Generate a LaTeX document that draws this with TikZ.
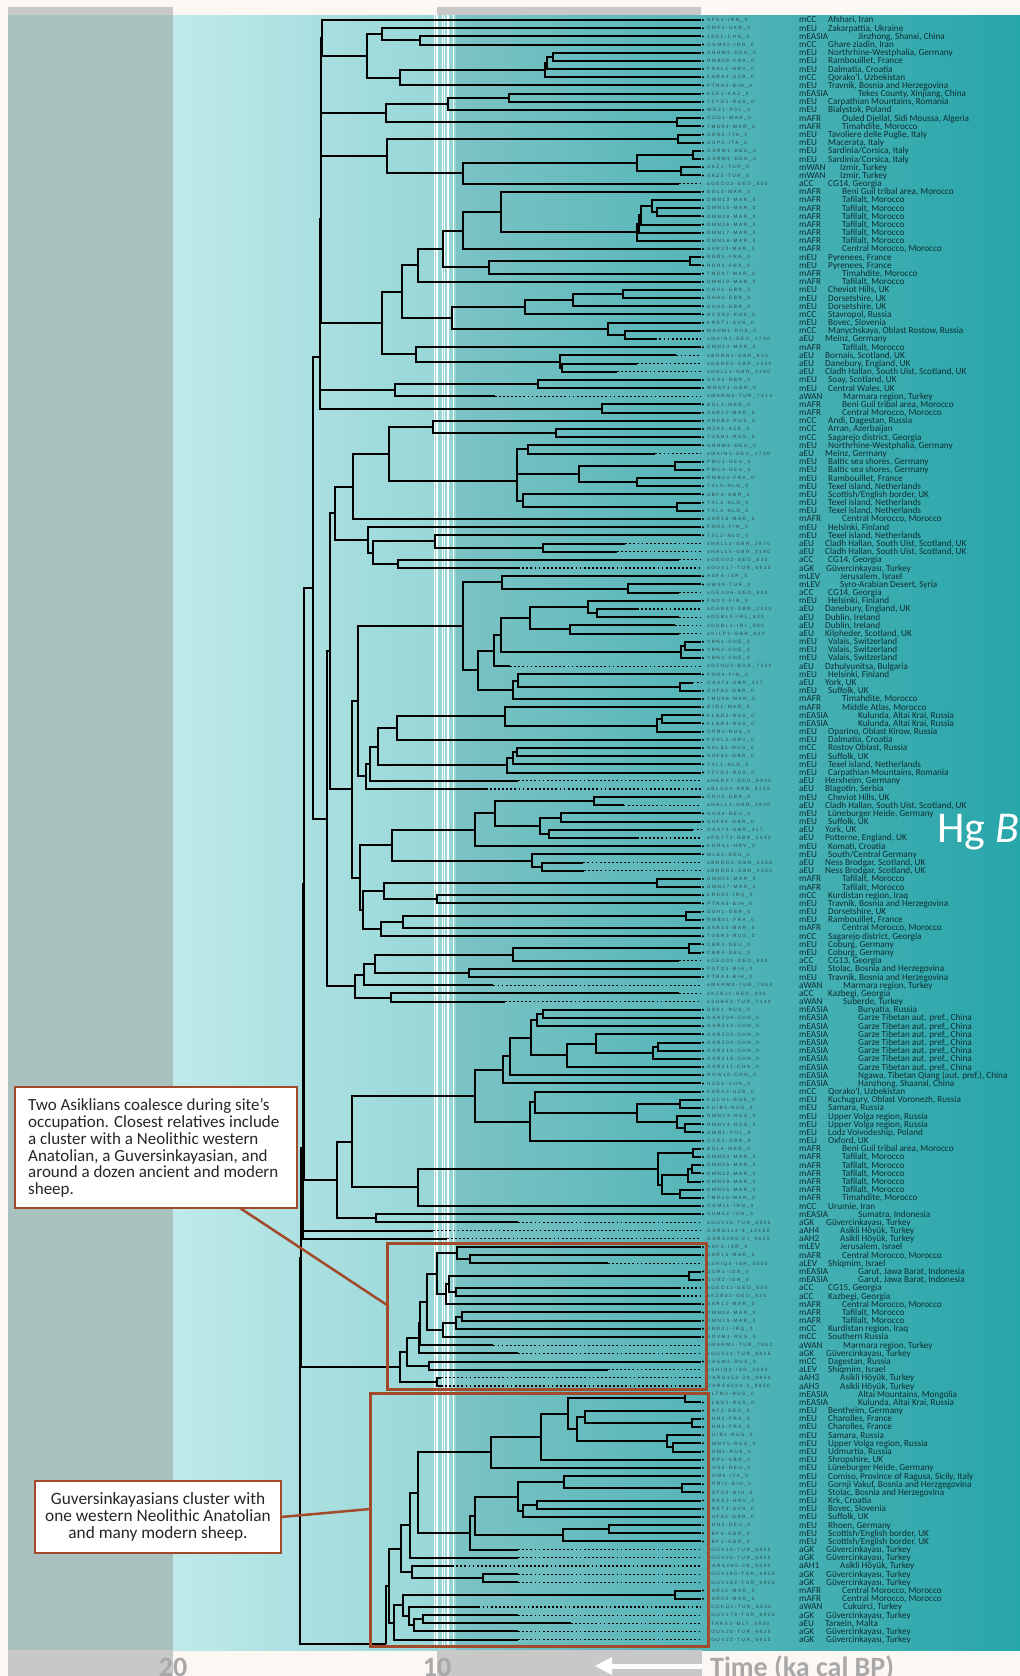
\documentclass[tikz,border=0pt]{standalone}
\usepackage{fontspec}
\setmainfont{Carlito}
\newfontfamily\idfont[LetterSpace=32]{Liberation Sans}
\usetikzlibrary{calc}
\definecolor{bgw}{HTML}{FDF7F4}
\definecolor{gry}{HTML}{C8C8C8}
\definecolor{zl}{HTML}{A9C2C0}
\definecolor{za}{HTML}{C0EAEA}
\definecolor{zb}{HTML}{95D5D6}
\definecolor{zc}{HTML}{7CC3C4}
\definecolor{zd}{HTML}{55B5B8}
\definecolor{ze}{HTML}{27A6AA}
\definecolor{idc}{HTML}{2A4447}
\definecolor{lbc}{HTML}{0C2E32}
\definecolor{rust}{HTML}{A24A2A}
\definecolor{axg}{HTML}{A8A8A8}
\newcommand\lxdef[2]{\expandafter\def\csname lx#1\endcsname{#2}}
\lxdef{mCC}{828}\lxdef{mEU}{828}\lxdef{mEASIA}{858}\lxdef{mAFR}{842}\lxdef{mWAN}{840}
\lxdef{aCC}{828}\lxdef{aEU}{825}\lxdef{aWAN}{843}\lxdef{mLEV}{840}\lxdef{aLEV}{828}
\lxdef{aGK}{826}\lxdef{aAH1}{840}\lxdef{aAH2}{840}\lxdef{aAH3}{840}\lxdef{aAH4}{840}
\newcommand\lf[5]{%
 \pgfmathsetmacro\ly{20+(#1-1)*8.18}%
 \pgfmathsetmacro\lx{701-26.4*#2}%
 \coordinate (L#1) at (\lx,\ly);
 \ifdim #2pt>0pt \draw[anc] (L#1) -- (701,\ly);\else\fill (703,\ly) circle (1.1);\fi
 \node[idt] at (707,\ly) {#3};
 \node[cdt] at (799,\ly) {#4};
 \node[cdt] at (\csname lx#4\endcsname,\ly) {#5};
}
\newcommand\nd[4]{\path let \p1=(#3),\p2=(#4) in (#2pt,{0.5*\y1+0.5*\y2}) coordinate (#1);
 \draw[br] (#3) -| (#1) |- (#4);}
\tikzset{
 br/.style={line width=2pt, draw=black, line join=miter},
 anc/.style={line width=1.2pt, dash pattern=on 1.8pt off 2.3pt},
 idt/.style={anchor=west, inner sep=0pt, text=idc, font=\idfont\fontsize{4.7}{5}\selectfont, text height=3.4pt, text depth=0pt},
 cdt/.style={anchor=west, inner sep=0pt, text=lbc, font=\fontsize{9.2}{9}\selectfont, text height=5.9pt, text depth=0pt},
 callout/.style={draw=rust, line width=2.5pt, fill=white},
 hl/.style={draw=rust, line width=3pt},
 axl/.style={text=axg, inner sep=0pt, font=\bfseries\fontsize{28}{28}\selectfont},
}
\begin{document}
\begin{tikzpicture}[x=1pt,y=-1pt]
\useasboundingbox (0,0) rectangle (1020,1676);
% background
\fill[bgw] (0,0) rectangle (1020,1676);
\fill[gry] (8,7) rectangle (173,15);
\fill[gry] (437,7) rectangle (701,15);
\fill[zl] (8,15) rectangle (173,1650);
\shade[left color=za, right color=zb] (173,15) rectangle (456,1650);
\shade[left color=zc, right color=zd] (456,15) rectangle (701,1650);
\shade[left color=zd, right color=ze] (701,15) rectangle (1020,1650);
\fill[gry] (8,1650) rectangle (173,1676);
\fill[gry] (437,1650) rectangle (702,1676);
\foreach \wx in {434.5,437,442.5,444.3,448,453.5} \draw[white, line width=1.2pt] (\wx,15) -- (\wx,1648);
% leaves
\lf{1}{0}{AFS1-IRN\_0}{mCC}{Afshari, Iran}
\lf{2}{0}{CMF1-UKR\_0}{mEU}{Zakarpattia, Ukraine}
\lf{3}{0}{JZG1-CHN\_0}{mEASIA}{Jinzhong, Shanxi, China}
\lf{4}{0}{OGM02-IRN\_0}{mCC}{Ghare ziadin, Iran}
\lf{5}{0}{GBHM2-DEU\_0}{mEU}{Northrhine-Westphalia, Germany}
\lf{6}{0}{RMB08-FRA\_0}{mEU}{Rambouillet, France}
\lf{7}{0}{PDAL1-HRV\_0}{mEU}{Dalmatia, Croatia}
\lf{8}{0}{KARA1-UZB\_0}{mCC}{Qorako'l, Uzbekistan}
\lf{9}{0}{PTRA2-BIH\_0}{mEU}{Travnik, Bosnia and Herzegovina}
\lf{10}{0}{KZK1-KAZ\_0}{mEASIA}{Tekes County, Xinjiang, China}
\lf{11}{0}{TZYG1-RUS\_0}{mEU}{Carpathian Mountains, Romania}
\lf{12}{0}{WRZ1-POL\_0}{mEU}{Bialystok, Poland}
\lf{13}{0}{OUD1-MAR\_0}{mAFR}{Ouled Djellal, Sidi Moussa, Algeria}
\lf{14}{0}{TMD04-MAR\_0}{mAFR}{Timahdite, Morocco}
\lf{15}{0}{GEN2-ITA\_0}{mEU}{Tavoliere delle Puglie, Italy}
\lf{16}{0}{SOP2-ITA\_0}{mEU}{Macerata, Italy}
\lf{17}{0}{OARM1-DEU\_0}{mEU}{Sardinia/Corsica, Italy}
\lf{18}{0}{OARM2-DEU\_0}{mEU}{Sardinia/Corsica, Italy}
\lf{19}{0}{SKZ1-TUR\_0}{mWAN}{Izmir, Turkey}
\lf{20}{0}{SKZ2-TUR\_0}{mWAN}{Izmir, Turkey}
\lf{21}{.83}{aGEO03-GEO\_830}{aCC}{CG14, Georgia}
\lf{22}{0}{BGL2-MAR\_0}{mAFR}{Beni Guil tribal area, Morocco}
\lf{23}{0}{DMN13-MAR\_0}{mAFR}{Tafilalt, Morocco}
\lf{24}{0}{DMN15-MAR\_0}{mAFR}{Tafilalt, Morocco}
\lf{25}{0}{DMN28-MAR\_0}{mAFR}{Tafilalt, Morocco}
\lf{26}{0}{DMN26-MAR\_0}{mAFR}{Tafilalt, Morocco}
\lf{27}{0}{DMN17-MAR\_0}{mAFR}{Tafilalt, Morocco}
\lf{28}{0}{DMN16-MAR\_0}{mAFR}{Tafilalt, Morocco}
\lf{29}{0}{SAR23-MAR\_0}{mAFR}{Central Morocco, Morocco}
\lf{30}{0}{RDR1-FRA\_0}{mEU}{Pyrenees, France}
\lf{31}{0}{RDR2-FRA\_0}{mEU}{Pyrenees, France}
\lf{32}{0}{TMD07-MAR\_0}{mAFR}{Timahdite, Morocco}
\lf{33}{0}{DMN10-MAR\_0}{mAFR}{Tafilalt, Morocco}
\lf{34}{0}{CHV1-GBR\_0}{mEU}{Cheviot Hills, UK}
\lf{35}{0}{DSH4-GBR\_0}{mEU}{Dorsetshire, UK}
\lf{36}{0}{DSH5-GBR\_0}{mEU}{Dorsetshire, UK}
\lf{37}{0}{NCSN2-RUS\_0}{mCC}{Stavropol, Russia}
\lf{38}{0}{KRST1-SVN\_0}{mEU}{Bovec, Slovenia}
\lf{39}{0}{MANM1-RUS\_0}{mCC}{Manychskaya, Oblast Rostow, Russia}
\lf{40}{1.73}{aMAIN1-DEU\_1730}{aEU}{Meinz, Germany}
\lf{41}{0}{DMN14-MAR\_0}{mAFR}{Tafilalt, Morocco}
\lf{42}{.93}{aBORN1-GBR\_930}{aEU}{Bornais, Scotland, UK}
\lf{43}{2.43}{aDANE2-GBR\_2430}{aEU}{Danebury, England, UK}
\lf{44}{3.19}{aHALL4-GBR\_3190}{aEU}{Cladh Hallan, South Uist, Scotland, UK}
\lf{45}{0}{SOA3-GBR\_0}{mEU}{Soay, Scotland, UK}
\lf{46}{0}{WHSF1-GBR\_0}{mEU}{Central Wales, UK}
\lf{47}{7.814}{aMARM6-TUR\_7814}{aWAN}{Marmara region, Turkey}
\lf{48}{0}{BGL1-MAR\_0}{mAFR}{Beni Guil tribal area, Morocco}
\lf{49}{0}{SAR22-MAR\_0}{mAFR}{Central Morocco, Morocco}
\lf{50}{0}{ANDB2-RUS\_0}{mCC}{Andi, Dagestan, Russia}
\lf{51}{0}{MZK1-AZE\_0}{mCC}{Arran, Azerbaijan}
\lf{52}{0}{TUSH1-RUS\_0}{mCC}{Sagarejo district, Georgia}
\lf{53}{0}{GBHM4-DEU\_0}{mEU}{Northrhine-Westphalia, Germany}
\lf{54}{1.73}{aMAIN3-DEU\_1730}{aEU}{Meinz, Germany}
\lf{55}{0}{PMC1-DEU\_0}{mEU}{Baltic sea shores, Germany}
\lf{56}{0}{PMC3-DEU\_0}{mEU}{Baltic sea shores, Germany}
\lf{57}{0}{RMB03-FRA\_0}{mEU}{Rambouillet, France}
\lf{58}{0}{TXL5-NLD\_0}{mEU}{Texel island, Netherlands}
\lf{59}{0}{SBF4-GBR\_0}{mEU}{Scottish/English border, UK}
\lf{60}{0}{TXL3-NLD\_0}{mEU}{Texel island, Netherlands}
\lf{61}{0}{TXL4-NLD\_0}{mEU}{Texel island, Netherlands}
\lf{62}{0}{SAR26-MAR\_0}{mAFR}{Central Morocco, Morocco}
\lf{63}{0}{FNO5-FIN\_0}{mEU}{Helsinki, Finland}
\lf{64}{0}{TXL2-NLD\_0}{mEU}{Texel island, Netherlands}
\lf{65}{2.87}{aHALL2-GBR\_2870}{aEU}{Cladh Hallan, South Uist, Scotland, UK}
\lf{66}{3.19}{aHALL5-GBR\_3190}{aEU}{Cladh Hallan, South Uist, Scotland, UK}
\lf{67}{.83}{aGEO02-GEO\_830}{aCC}{CG14, Georgia}
\lf{68}{6.925}{aGUV17-TUR\_6925}{aGK}{Güvercinkayası, Turkey}
\lf{69}{0}{ASF4-ISR\_0}{mLEV}{Jerusalem, Israel}
\lf{70}{0}{AWS5-TUR\_0}{mLEV}{Syro-Arabian Desert, Syria}
\lf{71}{.83}{aGEO06-GEO\_830}{aCC}{CG14, Georgia}
\lf{72}{0}{FNO3-FIN\_0}{mEU}{Helsinki, Finland}
\lf{73}{2.43}{aDANE3-GBR\_2430}{aEU}{Danebury, England, UK}
\lf{74}{.83}{aDUBL3-IRL\_830}{aEU}{Dublin, Ireland}
\lf{75}{.98}{aDUBL1-IRL\_980}{aEU}{Dublin, Ireland}
\lf{76}{.83}{aKILP2-GBR\_830}{aEU}{Kilpheder, Scotland, UK}
\lf{77}{0}{VBN1-CHE\_0}{mEU}{Valais, Switzerland}
\lf{78}{0}{VBN2-CHE\_0}{mEU}{Valais, Switzerland}
\lf{79}{0}{VBN3-CHE\_0}{mEU}{Valais, Switzerland}
\lf{80}{7.23}{aDZHU2-BGR\_7230}{aEU}{Dzhulyunitsa, Bulgaria}
\lf{81}{0}{FNO4-FIN\_0}{mEU}{Helsinki, Finland}
\lf{82}{.317}{OAA74-GBR\_317}{aEU}{York, UK}
\lf{83}{0}{SUF63-GBR\_0}{mEU}{Suffolk, UK}
\lf{84}{0}{TMD06-MAR\_0}{mAFR}{Timahdite, Morocco}
\lf{85}{0}{BJD1-MAR\_0}{mAFR}{Middle Atlas, Morocco}
\lf{86}{0}{KLND2-RUS\_0}{mEASIA}{Kulunda, Altai Krai, Russia}
\lf{87}{0}{KLND3-RUS\_0}{mEASIA}{Kulunda, Altai Krai, Russia}
\lf{88}{0}{OPR1-RUS\_0}{mEU}{Oparino, Oblast Kirow, Russia}
\lf{89}{0}{PDAL2-HRV\_0}{mEU}{Dalmatia, Croatia}
\lf{90}{0}{SALS1-RUS\_0}{mCC}{Rostov Oblast, Russia}
\lf{91}{0}{SUF61-GBR\_0}{mEU}{Suffolk, UK}
\lf{92}{0}{TXL1-NLD\_0}{mEU}{Texel island, Netherlands}
\lf{93}{0}{TZYG2-RUS\_0}{mEU}{Carpathian Mountains, Romania}
\lf{94}{6.93}{aHERX7-DEU\_6930}{aEU}{Herxheim, Germany}
\lf{95}{8.155}{aBLG04-SRB\_8155}{aEU}{Blagotin, Serbia}
\lf{96}{0}{CHV2-GBR\_0}{mEU}{Cheviot Hills, UK}
\lf{97}{2.93}{aHALL1-GBR\_2930}{aEU}{Cladh Hallan, South Uist, Scotland, UK}
\lf{98}{0}{GHS4-DEU\_0}{mEU}{Lüneburger Heide, Germany}
\lf{99}{0}{SUF64-GBR\_0}{mEU}{Suffolk, UK}
\lf{100}{.317}{OAA73-GBR\_317}{aEU}{York, UK}
\lf{101}{2.43}{aPOTT2-GBR\_2430}{aEU}{Potterne, England, UK}
\lf{102}{0}{KORS1-HRV\_0}{mEU}{Komati, Croatia}
\lf{103}{0}{MLS2-DEU\_0}{mEU}{South/Central Germany}
\lf{104}{4.456}{aBROD1-GBR\_4456}{aEU}{Ness Brodgar, Scotland, UK}
\lf{105}{4.43}{aBROD2-GBR\_4430}{aEU}{Ness Brodgar, Scotland, UK}
\lf{106}{0}{DMN01-MAR\_0}{mAFR}{Tafilalt, Morocco}
\lf{107}{0}{DMN27-MAR\_0}{mAFR}{Tafilalt, Morocco}
\lf{108}{0}{KRD02-IRQ\_0}{mCC}{Kurdistan region, Iraq}
\lf{109}{0}{PTRA3-BIH\_0}{mEU}{Travnik, Bosnia and Herzegovina}
\lf{110}{0}{DSH1-GBR\_0}{mEU}{Dorsetshire, UK}
\lf{111}{0}{RMB01-FRA\_0}{mEU}{Rambouillet, France}
\lf{112}{0}{SAR24-MAR\_0}{mAFR}{Central Morocco, Morocco}
\lf{113}{0}{TUSH3-RUS\_0}{mCC}{Sagarejo district, Georgia}
\lf{114}{0}{CBR3-DEU\_0}{mEU}{Coburg, Germany}
\lf{115}{0}{CBR4-DEU\_0}{mEU}{Coburg, Germany}
\lf{116}{.83}{aGEO01-GEO\_830}{aCC}{CG13, Georgia}
\lf{117}{0}{PSTO1-BIH\_0}{mEU}{Stolac, Bosnia and Herzegovina}
\lf{118}{0}{PTRA4-BIH\_0}{mEU}{Travnik, Bosnia and Herzegovina}
\lf{119}{7.862}{aMARM8-TUR\_7862}{aWAN}{Marmara region, Turkey}
\lf{120}{.83}{aKZB11-GEO\_830}{aCC}{Kazbegi, Georgia}
\lf{121}{7.43}{aSUBE3-TUR\_7430}{aWAN}{Suberde, Turkey}
\lf{122}{0}{BDK1-RUS\_0}{mEASIA}{Buryatia, Russia}
\lf{123}{0}{GARZ09-CHN\_0}{mEASIA}{Garze Tibetan aut. pref., China}
\lf{124}{0}{GARZ12-CHN\_0}{mEASIA}{Garze Tibetan aut. pref., China}
\lf{125}{0}{GARZ02-CHN\_0}{mEASIA}{Garze Tibetan aut. pref., China}
\lf{126}{0}{GARZ08-CHN\_0}{mEASIA}{Garze Tibetan aut. pref., China}
\lf{127}{0}{GARZ16-CHN\_0}{mEASIA}{Garze Tibetan aut. pref., China}
\lf{128}{0}{GARZ18-CHN\_0}{mEASIA}{Garze Tibetan aut. pref., China}
\lf{129}{0}{GARZ11-CHN\_0}{mEASIA}{Garze Tibetan aut. pref., China}
\lf{130}{0}{NGW10-CHN\_0}{mEASIA}{Ngawa, Tibetan Qiang (aut. pref.), China}
\lf{131}{0}{HZG1-CHN\_0}{mEASIA}{Hanzhong, Shaanxi, China}
\lf{132}{0}{KARA3-UZB\_0}{mCC}{Qorako'l, Uzbekistan}
\lf{133}{0}{KUCH1-RUS\_0}{mEU}{Kuchugury, Oblast Voronezh, Russia}
\lf{134}{0}{KUIB3-RUS\_0}{mEU}{Samara, Russia}
\lf{135}{0}{RMNV3-RUS\_0}{mEU}{Upper Volga region, Russia}
\lf{136}{0}{RMNV4-RUS\_0}{mEU}{Upper Volga region, Russia}
\lf{137}{0}{SWN1-POL\_0}{mEU}{Lodz Voivodeship, Poland}
\lf{138}{0}{OXD1-GBR\_0}{mEU}{Oxford, UK}
\lf{139}{0}{BGL6-MAR\_0}{mAFR}{Beni Guil tribal area, Morocco}
\lf{140}{0}{DMN03-MAR\_0}{mAFR}{Tafilalt, Morocco}
\lf{141}{0}{DMN05-MAR\_0}{mAFR}{Tafilalt, Morocco}
\lf{142}{0}{DMN22-MAR\_0}{mAFR}{Tafilalt, Morocco}
\lf{143}{0}{DMN29-MAR\_0}{mAFR}{Tafilalt, Morocco}
\lf{144}{0}{DMN25-MAR\_0}{mAFR}{Tafilalt, Morocco}
\lf{145}{0}{TMD10-MAR\_0}{mAFR}{Timahdite, Morocco}
\lf{146}{0}{OGM11-IRN\_0}{mCC}{Urumie, Iran}
\lf{147}{0}{SUM52-IDN\_0}{mEASIA}{Sumatra, Indonesia}
\lf{148}{6.925}{aGUV16-TUR\_6925}{aGK}{Güvercinkayası, Turkey}
\lf{149}{10.15}{OARG114-4\_10150}{aAH4}{Asikli Höyük, Turkey}
\lf{150}{9.625}{OARG089-2J\_9625}{aAH2}{Asikli Höyük, Turkey}
\lf{151}{0}{ASF3-ISR\_0}{mLEV}{Jerusalem, Israel}
\lf{152}{0}{SAR14-MAR\_0}{mAFR}{Central Morocco, Morocco}
\lf{153}{3.53}{aSHIQ4-ISR\_3530}{aLEV}{Shiqmim, Israel}
\lf{154}{0}{GUR1-IDN\_0}{mEASIA}{Garut, Jawa Barat, Indonesia}
\lf{155}{0}{GUR2-IDN\_0}{mEASIA}{Garut, Jawa Barat, Indonesia}
\lf{156}{.83}{aGEO11-GEO\_830}{aCC}{CG15, Georgia}
\lf{157}{.83}{aKZB02-GEO\_830}{aCC}{Kazbegi, Georgia}
\lf{158}{0}{SAR12-MAR\_0}{mAFR}{Central Morocco, Morocco}
\lf{159}{0}{DMN02-MAR\_0}{mAFR}{Tafilalt, Morocco}
\lf{160}{0}{DMN19-MAR\_0}{mAFR}{Tafilalt, Morocco}
\lf{161}{0}{KRD01-IRQ\_0}{mCC}{Kurdistan region, Iraq}
\lf{162}{0}{SOVM1-RUS\_0}{mCC}{Southern Russia}
\lf{163}{7.862}{aMARM1-TUR\_7862}{aWAN}{Marmara region, Turkey}
\lf{164}{6.925}{aGUV21-TUR\_6925}{aGK}{Güvercinkayası, Turkey}
\lf{165}{0}{DAGM2-RUS\_0}{mCC}{Dagestan, Russia}
\lf{166}{3.53}{aSHIQ2-ISR\_3530}{aLEV}{Shiqmim, Israel}
\lf{167}{9.85}{OARG153-3D\_9850}{aAH3}{Asikli Höyük, Turkey}
\lf{168}{9.85}{OARG6024-3\_9850}{aAH3}{Asikli Höyük, Turkey}
\lf{169}{0}{ALTM2-RUS\_0}{mEASIA}{Altai Mountains, Mongolia}
\lf{170}{0}{KLND1-RUS\_0}{mEASIA}{Kulunda, Altai Krai, Russia}
\lf{171}{0}{BNT2-DEU\_0}{mEU}{Bentheim, Germany}
\lf{172}{0}{CHR2-FRA\_0}{mEU}{Charolles, France}
\lf{173}{0}{CHR3-FRA\_0}{mEU}{Charolles, France}
\lf{174}{0}{KUIB1-RUS\_0}{mEU}{Samara, Russia}
\lf{175}{0}{RMNV5-RUS\_0}{mEU}{Upper Volga region, Russia}
\lf{176}{0}{UDM1-RUS\_0}{mEU}{Udmurtia, Russia}
\lf{177}{0}{SRP2-GBR\_0}{mEU}{Shropshire, UK}
\lf{178}{0}{GHS2-DEU\_0}{mEU}{Lüneburger Heide, Germany}
\lf{179}{0}{COM8-ITA\_0}{mEU}{Comiso, Province of Ragusa, Sicily, Italy}
\lf{180}{0}{GPRI2-BIH\_0}{mEU}{Gornji Vakuf, Bosnia and Herzgegovina}
\lf{181}{0}{PSTO2-BIH\_0}{mEU}{Stolac, Bosnia and Herzegovina}
\lf{182}{0}{KRKS3-HRV\_0}{mEU}{Krk, Croatia}
\lf{183}{0}{KRST3-SVN\_0}{mEU}{Bovec, Slovenia}
\lf{184}{0}{SUF62-GBR\_0}{mEU}{Suffolk, UK}
\lf{185}{0}{RHN2-DEU\_0}{mEU}{Rhoen, Germany}
\lf{186}{0}{SBF3-GBR\_0}{mEU}{Scottish/English border, UK}
\lf{187}{0}{SBF1-GBR\_0}{mEU}{Scottish/English border, UK}
\lf{188}{6.925}{aGUV15-TUR\_6925}{aGK}{Güvercinkayası, Turkey}
\lf{189}{6.925}{aGUV25-TUR\_6925}{aGK}{Güvercinkayası, Turkey}
\lf{190}{9.425}{OARG065-2B\_9425}{aAH1}{Asikli Höyük, Turkey}
\lf{191}{6.925}{aGUV180-TUR\_6925}{aGK}{Güvercinkayası, Turkey}
\lf{192}{6.925}{aGUV182-TUR\_6925}{aGK}{Güvercinkayası, Turkey}
\lf{193}{0}{SAR01-MAR\_0}{mAFR}{Central Morocco, Morocco}
\lf{194}{0}{SAR05-MAR\_0}{mAFR}{Central Morocco, Morocco}
\lf{195}{8.43}{aCUKU1-TUR\_8430}{aWAN}{Cukuirci, Turkey}
\lf{196}{6.925}{aGUV179-TUR\_6925}{aGK}{Güvercinkayası, Turkey}
\lf{197}{4.93}{aTARX3-MLT\_4930}{aEU}{Tarxein, Malta}
\lf{198}{6.925}{aGUV20-TUR\_6925}{aGK}{Güvercinkayası, Turkey}
\lf{199}{6.925}{aGUV22-TUR\_6925}{aGK}{Güvercinkayası, Turkey}
% tree
\nd{a1}{420}{L3}{L4}
\nd{a2}{381.7}{L2}{a1}
\nd{a3}{553.3}{L5}{L6}
\nd{a4}{546.7}{a3}{L7}
\nd{a5}{545.3}{a4}{L8}
\nd{a6}{400}{a5}{L9}
\nd{a7}{366.7}{a2}{a6}
\nd{a8}{322.3}{L1}{a7}
\nd{b1}{509}{L10}{L11}
\nd{b2}{447.7}{b1}{L12}
\nd{b3}{676.7}{L13}{L14}
\nd{b4}{386}{b2}{b3}
\nd{c1}{678.3}{L15}{L16}
\nd{c2}{693.3}{L17}{L18}
\nd{c3}{680.7}{L19}{L20}
\nd{c4}{636.7}{c2}{c3}
\nd{c5}{463.3}{c4}{L21}
\nd{c6}{386.7}{c1}{c5}
\nd{d1}{656.7}{L24}{L25}
\nd{d2}{651.7}{L23}{d1}
\nd{d3}{640.7}{d2}{L26}
\nd{d4}{638.7}{d3}{L27}
\nd{d5}{636.7}{d4}{L28}
\nd{d6}{500.7}{L22}{d5}
\nd{d7}{462.7}{d6}{L29}
\nd{d8}{690}{L30}{L31}
\nd{d9}{489}{d8}{L32}
\nd{d10}{443.3}{d7}{d9}
\nd{d11}{418.3}{d10}{L33}
\nd{d12}{623.3}{L34}{L35}
\nd{d13}{573.3}{d12}{L36}
\nd{d14}{525}{d13}{L37}
\nd{d15}{625}{L39}{L40}
\nd{d16}{608.3}{L38}{d15}
\nd{d17}{451.7}{d14}{d16}
\nd{d18}{401.7}{d11}{d17}
\nd{d19}{561.7}{L43}{L44}
\nd{d20}{560}{L42}{d19}
\nd{d21}{416}{L41}{d20}
\nd{d22}{381.7}{d18}{d21}
\nd{e1}{538.3}{L45}{L46}
\nd{e2}{395}{e1}{L47}
\nd{f1}{601.7}{L48}{L49}
\nd{n1}{320.9}{a8}{b4}
\nd{n2}{320.7}{n1}{c6}
\nd{n3}{320.5}{n2}{d22}
\nd{n4}{320.3}{n3}{e2}
\nd{n5}{320.1}{n4}{f1}
\nd{g1}{555.7}{L51}{L52}
\nd{g2}{432.7}{L50}{g1}
\nd{g3}{528.3}{L53}{L54}
\nd{g4}{675}{L55}{L56}
\nd{g5}{636.7}{L57}{L58}
\nd{g6}{579.3}{g4}{g5}
\nd{g7}{517.3}{g3}{g6}
\nd{g8}{676.7}{L60}{L61}
\nd{g9}{523.3}{L59}{g8}
\nd{g10}{516.7}{g7}{g9}
\nd{g11}{389}{g2}{g10}
\nd{g12}{353.3}{g11}{L62}
\nd{g13}{543.3}{L65}{L66}
\nd{g14}{435}{L64}{g13}
\nd{g15}{398.3}{L67}{L68}
\nd{g16}{373.3}{g14}{g15}
\nd{g17}{368.3}{L63}{g16}
\nd{g18}{335}{g12}{g17}
\nd{h1}{628.3}{L70}{L71}
\nd{h2}{501.7}{L69}{h1}
\nd{h3}{596.7}{L73}{L74}
\nd{h4}{587.7}{L72}{h3}
\nd{h5}{570}{L75}{L76}
\nd{h6}{530}{h4}{h5}
\nd{h7}{685}{L77}{L78}
\nd{h8}{680.7}{h7}{L79}
\nd{h9}{500.7}{h6}{h8}
\nd{h10}{494}{h9}{L80}
\nd{h11}{680}{L82}{L83}
\nd{h12}{518.3}{L81}{h11}
\nd{h13}{513.3}{h12}{L84}
\nd{h14}{478.3}{h10}{h13}
\nd{h15}{462.7}{h2}{h14}
\nd{h16}{661.7}{L86}{L87}
\nd{h17}{656.7}{h16}{L88}
\nd{h18}{505}{L85}{h17}
\nd{h19}{397.3}{h18}{L89}
\nd{h20}{516.7}{L90}{L91}
\nd{h21}{512.7}{h20}{L92}
\nd{h22}{506.7}{h21}{L93}
\nd{h23}{377.7}{h19}{h22}
\nd{h24}{370}{h23}{L94}
\nd{h25}{366}{h24}{L95}
\nd{h26}{358.3}{h15}{h25}
\nd{i1}{560.7}{L98}{L99}
\nd{i2}{549.3}{L100}{L101}
\nd{i3}{540}{i1}{i2}
\nd{i4}{594}{L96}{L97}
\nd{i5}{495}{i4}{i3}
\nd{i6}{475}{i5}{L102}
\nd{i7}{541.7}{L104}{L105}
\nd{i8}{531.7}{L103}{i7}
\nd{i9}{391.7}{i6}{i8}
\nd{i10}{656.7}{L106}{L107}
\nd{i11}{436.7}{L108}{L109}
\nd{i12}{384}{i10}{i11}
\nd{i13}{685.7}{L110}{L111}
\nd{i14}{402.7}{i13}{L112}
\nd{i15}{380.7}{i14}{L113}
\nd{i16}{363.3}{i12}{i15}
\nd{i17}{360}{i9}{i16}
\nd{i18}{351.7}{h26}{i17}
\nd{i19}{330}{g18}{i18}
\nd{j1}{689.3}{L114}{L115}
\nd{j2}{512.7}{j1}{L116}
\nd{j3}{469.3}{L117}{L118}
\nd{j4}{375}{j2}{j3}
\nd{j5}{364}{j4}{L119}
\nd{j6}{390.7}{L120}{L121}
\nd{j7}{355}{j5}{j6}
\nd{j8}{326.7}{i19}{j7}
\nd{T1}{313.3}{n5}{j8}
\nd{k1}{543.3}{L122}{L123}
\nd{k2}{536.7}{k1}{L124}
\nd{k3}{658.3}{L126}{L127}
\nd{k4}{652.7}{k3}{L128}
\nd{k5}{596}{L125}{k4}
\nd{k6}{567.3}{k5}{L129}
\nd{k7}{530.7}{k2}{k6}
\nd{k8}{510}{k7}{L130}
\nd{k9}{503.3}{k8}{L131}
\nd{k10}{680}{L133}{L134}
\nd{k11}{685}{L136}{L137}
\nd{k12}{676.7}{L135}{k11}
\nd{k13}{636.7}{k10}{k12}
\nd{k14}{535}{L132}{k13}
\nd{k15}{530}{k14}{L138}
\nd{k16}{475}{k9}{k15}
\nd{k17}{693.3}{L139}{L140}
\nd{k18}{691.7}{L141}{L142}
\nd{k19}{688.3}{k18}{L143}
\nd{k20}{680}{L144}{L145}
\nd{k21}{661.7}{k19}{k20}
\nd{k22}{658.3}{k17}{k21}
\nd{k23}{418.3}{k22}{L146}
\nd{k24}{351.7}{k16}{k23}
\nd{k25}{376}{L147}{L148}
\nd{k26}{336.7}{k24}{k25}
\nd{r1}{303.5}{T1}{k26}
\nd{r2}{303.3}{r1}{L149}
\nd{r3}{303.1}{r2}{L150}
\nd{x1}{470}{L152}{L153}
\nd{x2}{456.7}{L151}{x1}
\nd{x3}{689.3}{L154}{L155}
\nd{x4}{455.7}{L156}{L157}
\nd{x5}{449.3}{x3}{x4}
\nd{x6}{446}{x5}{L158}
\nd{x7}{436.7}{x2}{x6}
\nd{x8}{462.3}{L159}{L160}
\nd{x9}{455.7}{x8}{L161}
\nd{x10}{442.7}{x9}{L162}
\nd{x11}{426.7}{x7}{x10}
\nd{x12}{420}{x11}{L163}
\nd{x13}{419.3}{x12}{L164}
\nd{x14}{429.3}{L165}{L166}
\nd{x15}{407.3}{x13}{x14}
\nd{x16}{436.7}{L167}{L168}
\nd{x17}{400}{x15}{x16}
\nd{r4}{300.6}{r3}{x17}
\nd{z1}{685}{L169}{L170}
\nd{z2}{691.7}{L172}{L173}
\nd{z3}{585}{L171}{z2}
\nd{z4}{673.3}{L175}{L176}
\nd{z5}{666.7}{L174}{z4}
\nd{z6}{576.7}{z3}{z5}
\nd{z7}{568.3}{z1}{z6}
\nd{z8}{540.7}{z7}{L177}
\nd{z9}{491}{z8}{L178}
\nd{z10}{681.7}{L180}{L181}
\nd{z11}{564}{L179}{z10}
\nd{z12}{536.7}{L182}{L183}
\nd{z13}{523.3}{z12}{L184}
\nd{z14}{518.3}{z11}{z13}
\nd{z15}{609.3}{L185}{L186}
\nd{z16}{562.7}{z15}{L187}
\nd{z17}{475}{z14}{z16}
\nd{z18}{470}{z17}{L188}
\nd{z19}{418.3}{z9}{z18}
\nd{z20}{410}{z19}{L189}
\nd{z21}{482.7}{L191}{L192}
\nd{z22}{411.7}{L190}{z21}
\nd{z23}{401}{z20}{z22}
\nd{z24}{675}{L193}{L194}
\nd{z25}{422.7}{L196}{L197}
\nd{z26}{414}{z25}{L198}
\nd{z27}{409.3}{L195}{z26}
\nd{z28}{403.3}{z24}{z27}
\nd{z29}{394}{z28}{L199}
\nd{z30}{389}{z23}{z29}
\coordinate (G2) at (385.5,1644);
\nd{rt}{300}{r4}{G2}
\draw[br] (G2) |- (z30);
% highlight boxes
\draw[hl] (387,1243) rectangle (706,1389);
\draw[hl] (370,1393) rectangle (708,1646);
% callouts
\draw[callout] (15,1087) rectangle (297,1208);
\node[anchor=west, align=left, inner sep=0pt, font=\fontsize{17}{16.9}\selectfont, text=black!85] (ct1) at (28,1148) {Two Asiklians coalesce during site's\\occupation. Closest relatives include\\a cluster with a Neolithic western\\Anatolian, a Guversinkayasian, and\\around a dozen ancient and modern\\sheep.};
\coordinate (c1a) at (240,1208);
\coordinate (c1b) at (387,1305);
\draw[rust, line width=2.5pt] (c1a) -- (c1b);
\draw[callout] (35,1481) rectangle (281,1553);
\node[align=center, inner sep=0pt, font=\fontsize{17.3}{16.7}\selectfont, text=black!85] (ct2) at (158,1517) {Guversinkayasians cluster with\\one western Neolithic Anatolian\\and many modern sheep.};
\coordinate (c2a) at (281,1517);
\coordinate (c2b) at (370,1509);
\draw[rust, line width=2.5pt] (c2a) -- (c2b);
% Hg B
\node[anchor=base west, inner sep=0pt, text=white, font=\fontsize{44}{44}\selectfont] (hg) at (937,842) {Hg \textit{B}};
% axis
\node[axl, anchor=base] (t20) at (173,1676) {20};
\node[axl, anchor=base] (t10) at (437,1676) {10};
\fill[white] (595,1666) -- (612,1657) -- (612,1675) -- cycle;
\fill[white] (610,1663.5) rectangle (702,1668.5);
\node[axl, anchor=base west] (tt) at (710,1676) {Time (ka cal BP)};
\end{tikzpicture}
\end{document}
